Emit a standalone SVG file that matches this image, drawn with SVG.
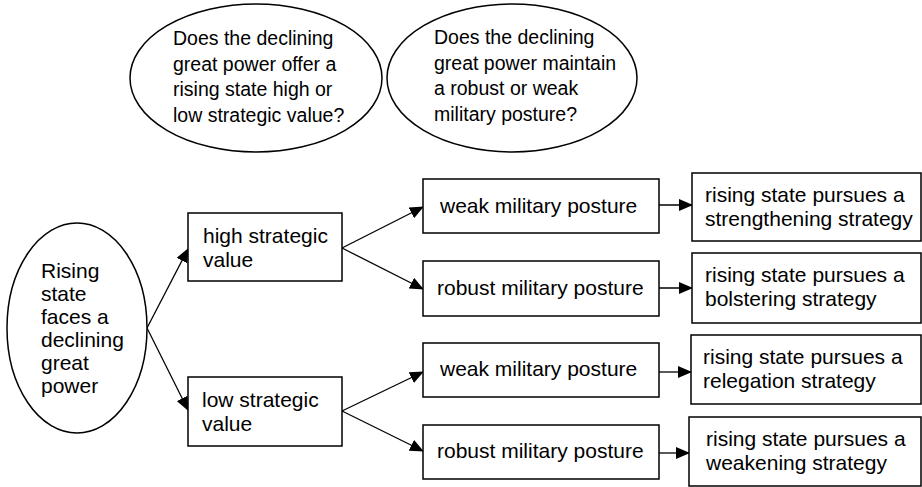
<svg xmlns="http://www.w3.org/2000/svg" width="922" height="487" viewBox="0 0 922 487">
<style>
.n{fill:#fff;stroke:#000;stroke-width:1.5}
.t{font-family:"Liberation Sans",Arial,sans-serif;font-size:21px;fill:#000}
.q{font-family:"Liberation Sans",Arial,sans-serif;font-size:19.5px;fill:#000}
.c{stroke:#000;stroke-width:1.3;fill:none;marker-end:url(#ah)}
</style>
<defs>
<marker id="ah" markerWidth="14" markerHeight="12" refX="13" refY="6" orient="auto" markerUnits="userSpaceOnUse">
<path d="M0,0 L14,6 L0,12 z" fill="#000"/>
</marker>
</defs>
<rect width="922" height="487" fill="#fff"/>
<g id="connectors">
<line class="c" x1="147" y1="328" x2="188" y2="249"/>
<line class="c" x1="147" y1="328" x2="188" y2="410"/>
<line class="c" x1="342" y1="248" x2="423" y2="207"/>
<line class="c" x1="342" y1="248" x2="423" y2="289"/>
<line class="c" x1="342" y1="411" x2="423" y2="372"/>
<line class="c" x1="342" y1="411" x2="423" y2="451"/>
<line class="c" x1="659" y1="205" x2="692" y2="205"/>
<line class="c" x1="659" y1="288" x2="692" y2="288"/>
<line class="c" x1="659" y1="372" x2="691" y2="372"/>
<line class="c" x1="659" y1="453" x2="689" y2="453"/>
</g>
<g id="q1">
<ellipse class="n" cx="256" cy="78" rx="126" ry="74"/>
<text class="q"><tspan x="173" y="45">Does the declining</tspan><tspan x="173" y="71">great power offer a</tspan><tspan x="173" y="96">rising state high or</tspan><tspan x="173" y="122">low strategic value?</tspan></text>
</g>
<g id="q2">
<ellipse class="n" cx="512" cy="78" rx="125" ry="74"/>
<text class="q"><tspan x="434" y="44">Does the declining</tspan><tspan x="434" y="70">great power maintain</tspan><tspan x="434" y="95">a robust or weak</tspan><tspan x="434" y="121">military posture?</tspan></text>
</g>
<g id="start">
<ellipse class="n" cx="77" cy="328" rx="70" ry="105"/>
<text class="t"><tspan x="41" y="278">Rising</tspan><tspan x="41" y="301">state</tspan><tspan x="41" y="324">faces a</tspan><tspan x="41" y="347">declining</tspan><tspan x="41" y="370">great</tspan><tspan x="41" y="393">power</tspan></text>
</g>
<g id="high">
<rect class="n" x="188" y="213" width="154" height="68"/>
<text class="t"><tspan x="203" y="243">high strategic</tspan><tspan x="203" y="267">value</tspan></text>
</g>
<g id="low">
<rect class="n" x="188" y="377" width="154" height="69"/>
<text class="t"><tspan x="202" y="407">low strategic</tspan><tspan x="202" y="431">value</tspan></text>
</g>
<g id="weak1">
<rect class="n" x="423" y="179" width="236" height="54"/>
<text class="t" x="440" y="213">weak military posture</text>
</g>
<g id="robust1">
<rect class="n" x="423" y="261" width="236" height="55"/>
<text class="t" x="437" y="295">robust military posture</text>
</g>
<g id="weak2">
<rect class="n" x="423" y="343" width="236" height="54"/>
<text class="t" x="440" y="376">weak military posture</text>
</g>
<g id="robust2">
<rect class="n" x="423" y="425" width="236" height="54"/>
<text class="t" x="437" y="458">robust military posture</text>
</g>
<g id="out1">
<rect class="n" x="692" y="173" width="229" height="68"/>
<text class="t"><tspan x="705" y="202">rising state pursues a</tspan><tspan x="705" y="226">strengthening strategy</tspan></text>
</g>
<g id="out2">
<rect class="n" x="692" y="253" width="229" height="70"/>
<text class="t"><tspan x="705" y="282">rising state pursues a</tspan><tspan x="705" y="306">bolstering strategy</tspan></text>
</g>
<g id="out3">
<rect class="n" x="691" y="335" width="230" height="69"/>
<text class="t"><tspan x="703" y="364">rising state pursues a</tspan><tspan x="703" y="388">relegation strategy</tspan></text>
</g>
<g id="out4">
<rect class="n" x="689" y="417" width="232" height="69"/>
<text class="t"><tspan x="706" y="446">rising state pursues a</tspan><tspan x="706" y="470">weakening strategy</tspan></text>
</g>
</svg>
